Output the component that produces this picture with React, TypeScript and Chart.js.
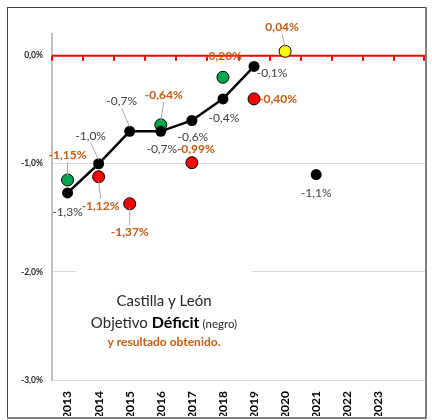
import React, { useEffect, useRef } from "react";
import { Chart, registerables } from "chart.js";

Chart.register(...registerables);

const years = ["2013", "2014", "2015", "2016", "2017", "2018", "2019", "2020", "2021", "2022", "2023", ""];
const targetValues: (number | null)[] = [-1.27, -1.0, -0.7, -0.7, -0.6, -0.4, -0.1, null, -1.1, null, null, null];
const resultValues: (number | null)[] = [-1.15, -1.12, -1.37, -0.64, -0.99, -0.2, -0.4, 0.04, null, null, null, null];
const resultColors = ["#00A550", "#FF0000", "#FF0000", "#00A550", "#FF0000", "#00A550", "#FF0000", "#FFFF00", "#FFFF00", "#FFFF00", "#FFFF00", "#FFFF00"];
const yTicks = [0, -1, -2, -3];

// label placement (offsets from point, leader line flag)
const targetLabelPos: [number, number, boolean][] = [
  [0, 19, false], [-8, -28, true], [-8, -30, true], [1, 18, false], [1, 17, false],
  [1, 19, false], [18, 7, false], [0, 0, false], [0, 19, false], [0, 0, false], [0, 0, false], [0, 0, false],
];
const resultLabelPos: [number, number, boolean][] = [
  [0, -25, true], [2, 29, true], [0, 28, true], [3, -30, true], [4, -14, false],
  [0, -21, false], [24, 0, false], [-3, -24, true], [0, 0, false], [0, 0, false], [0, 0, false], [0, 0, false],
];

const FONT = "Lato, 'Liberation Sans', sans-serif";
const ORANGE = "#C55A11";

const fmt = (v: number, d: number) => v.toFixed(d).replace(".", ",") + "%";

const decorPlugin = {
  id: "decor",
  beforeDatasetsDraw(chart: any) {
    const ctx = chart.ctx;
    const area = chart.chartArea;
    const y = chart.scales.y;
    const y0 = y.getPixelForValue(0);
    ctx.save();
    // white text box covering gridline
    ctx.fillStyle = "#FFFFFF";
    ctx.fillRect(76, 266, 176, 86);
    // red axis line at zero
    ctx.strokeStyle = "#FF0000";
    ctx.lineWidth = 2;
    ctx.beginPath();
    ctx.moveTo(area.left, y0);
    ctx.lineTo(area.right, y0);
    ctx.stroke();
    const n = years.length;
    const w = (area.right - area.left) / n;
    ctx.beginPath();
    for (let i = 0; i <= n; i++) {
      const x = Math.round(area.left + i * w) - (i === n ? 1 : 0);
      ctx.moveTo(x, y0);
      ctx.lineTo(x, y0 + 5);
    }
    ctx.stroke();
    // text block
    ctx.fillStyle = "#262626";
    ctx.textBaseline = "alphabetic";
    ctx.textAlign = "center";
    ctx.font = `15px ${FONT}`;
    ctx.fillText("Castilla y León", 164, 306);
    const parts: [string, string, string][] = [
      ["Objetivo ", `15px ${FONT}`, "#262626"],
      ["Déficit", `bold 16px ${FONT}`, "#000000"],
      [" (negro)", `11.5px ${FONT}`, "#262626"],
    ];
    let total = 0;
    parts.forEach((p) => { ctx.font = p[1]; total += ctx.measureText(p[0]).width; });
    let x = 164 - total / 2;
    ctx.textAlign = "left";
    parts.forEach((p) => {
      ctx.font = p[1];
      ctx.fillStyle = p[2];
      ctx.fillText(p[0], x, 328);
      x += ctx.measureText(p[0]).width;
    });
    ctx.textAlign = "center";
    ctx.fillStyle = ORANGE;
    ctx.font = `bold 12px ${FONT}`;
    ctx.fillText("y resultado obtenido.", 164, 346);
    ctx.restore();
  },
  afterDatasetsDraw(chart: any) {
    const ctx = chart.ctx;
    ctx.save();
    ctx.textAlign = "center";
    ctx.textBaseline = "middle";
    const drawSet = (dsIndex: number, values: (number | null)[], pos: [number, number, boolean][], font: string, color: string, dec: number) => {
      const meta = chart.getDatasetMeta(dsIndex);
      values.forEach((v, i) => {
        if (v === null) return;
        const el = meta.data[i];
        const px = el.x, py = el.y;
        const [dx, dy, leader] = pos[i];
        const lx = px + dx, ly = py + dy;
        if (leader) {
          const s = Math.sign(py - ly);
          ctx.strokeStyle = "#A6A6A6";
          ctx.lineWidth = 1;
          ctx.beginPath();
          ctx.moveTo(lx, ly + s * 7);
          ctx.lineTo(px, py - s * 4);
          ctx.stroke();
        }
        ctx.font = font;
        ctx.fillStyle = color;
        ctx.fillText(fmt(v, dec), lx, ly);
      });
    };
    drawSet(0, targetValues, targetLabelPos, `12px ${FONT}`, "#404040", 1);
    drawSet(1, resultValues, resultLabelPos, `bold 12px ${FONT}`, ORANGE, 2);
    ctx.restore();
  },
  afterDraw(chart: any) {
    const ctx = chart.ctx;
    ctx.save();
    ctx.strokeStyle = "#404040";
    ctx.lineWidth = 1;
    ctx.strokeRect(7.5, 7.5, 418, 410);
    ctx.strokeStyle = "#7F7F7F";
    ctx.lineWidth = 2;
    ctx.beginPath();
    ctx.moveTo(426, 7);
    ctx.lineTo(426, 419);
    ctx.moveTo(7, 418);
    ctx.lineTo(427, 418);
    ctx.stroke();
    ctx.restore();
  },
};

export default function App() {
  const ref = useRef<HTMLCanvasElement>(null);
  useEffect(() => {
    document.body.style.margin = "0";
    const chart = new Chart(ref.current!, {
      type: "line",
      data: {
        labels: years,
        datasets: [
          {
            data: targetValues,
            borderColor: "#000000",
            backgroundColor: "#000000",
            borderWidth: 2.5,
            pointRadius: 5.5,
            pointBorderWidth: 0,
            pointBackgroundColor: "#000000",
            spanGaps: false,
          },
          {
            data: resultValues,
            showLine: false,
            pointRadius: 6,
            pointBorderWidth: 1,
            pointBorderColor: "#000000",
            pointBackgroundColor: resultColors,
          },
        ],
      },
      options: {
        animation: false,
        responsive: false,
        events: [],
        layout: { padding: { left: 8, right: 7, top: 34, bottom: 4 } },
        plugins: { legend: { display: false }, tooltip: { enabled: false } },
        scales: {
          x: {
            offset: true,
            grid: { display: false },
            border: { display: false },
            ticks: {
              minRotation: 90,
              maxRotation: 90,
              autoSkip: false,
              padding: 3,
              color: "#000000",
              font: { family: FONT, size: 12, weight: "bold" },
            },
            afterFit(scale: any) { scale.height = 36; },
          },
          y: {
            min: -3,
            max: 0.2,
            afterBuildTicks(scale: any) { scale.ticks = yTicks.map((v) => ({ value: v })); },
            afterFit(scale: any) { scale.width = 44; },
            grid: { color: "#D9D9D9", lineWidth: 1, drawTicks: false },
            border: { display: true, color: "#BFBFBF", width: 2 },
            ticks: {
              padding: 9,
              color: "#262626",
              font: { family: FONT, size: 8.5, weight: "bold" },
              callback: (v: any) => fmt(Number(v), 1),
            },
          },
        },
      },
      plugins: [decorPlugin],
    });
    return () => chart.destroy();
  }, []);
  return <canvas ref={ref} width={432} height={420} style={{ display: "block" }} />;
}
